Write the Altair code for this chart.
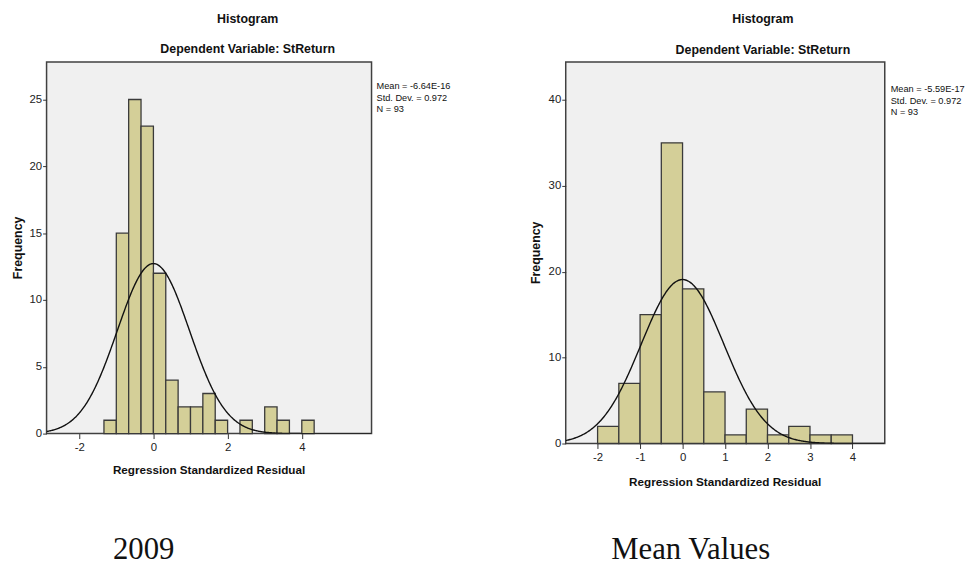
import altair as alt
import pandas as pd

# ---------------- data ----------------
left_bin_starts = [-1.333, -1.0, -0.667, -0.333, 0.0, 0.333, 0.667, 1.0, 1.333, 1.667, 2.333, 3.0, 3.333, 4.0]
left_counts = [1, 15, 25, 23, 12, 4, 2, 2, 3, 1, 1, 2, 1, 1]
left_bin_width = 0.3333

right_bin_starts = [-2.0, -1.5, -1.0, -0.5, 0.0, 0.5, 1.0, 1.5, 2.0, 2.5, 3.0, 3.5]
right_counts = [2, 7, 15, 35, 18, 6, 1, 4, 1, 2, 1, 1]
right_bin_width = 0.5

left_mean, left_sd, left_n = -6.64e-16, 0.972, 93
right_mean, right_sd, right_n = -5.59e-17, 0.972, 93

left_stats = ["Mean = -6.64E-16", "Std. Dev. = 0.972", "N = 93"]
right_stats = ["Mean = -5.59E-17", "Std. Dev. = 0.972", "N = 93"]

left_x_ticks = [-2, 0, 2, 4]
left_y_ticks = [0, 5, 10, 15, 20, 25]
right_x_ticks = [-2, -1, 0, 1, 2, 3, 4]
right_y_ticks = [0, 10, 20, 30, 40]

chart_titles = ["Histogram", "Dependent Variable: StReturn"]
x_title = "Regression Standardized Residual"
y_title = "Frequency"
captions = ["2009", "Mean Values"]

# ---------------- styling ----------------
SANS = "Liberation Sans, Arial, sans-serif"
NARROW = "Liberation Sans Narrow, Arial Narrow, Liberation Sans, sans-serif"
SERIF = "Liberation Serif, Times New Roman, serif"
BAR_FILL = "#D4CF98"
BAR_STROKE = "#3A3A3A"


def text_layer(txt, x, y, size, font, weight="normal", align="center",
               baseline="middle", angle=None, line_height=None):
    kw = dict(font=font, fontSize=size, fontWeight=weight, align=align,
              baseline=baseline, color="#111111")
    if angle is not None:
        kw["angle"] = angle
    if line_height is not None:
        kw["lineBreak"] = "\n"
        kw["lineHeight"] = line_height
    return alt.Chart(pd.DataFrame({"t": [txt]})).mark_text(**kw).encode(
        x=alt.value(x), y=alt.value(y), text="t:N"
    )


def panel(starts, counts, bw, mean, sd, n, xdom, ydom, xticks, yticks, W, H,
          stats, stats_xy, title_x, title_ys, xtitle_xy, ytitle_x,
          caption, caption_xy, caption_align, anchor=False):
    df = pd.DataFrame({"start": starts, "count": counts})
    df["end"] = df["start"] + bw

    xscale = alt.Scale(domain=xdom, nice=False, zero=False)
    yscale = alt.Scale(domain=ydom, nice=False, zero=True)

    xaxis = alt.Axis(values=xticks, title=None, grid=False, domain=False,
                     tickSize=5, tickColor="#333333", tickWidth=1,
                     labelPadding=3, labelFont=NARROW, labelFontSize=11.5,
                     labelColor="#222222", labelFlush=False,
                     labelExpr="'' + datum.value")
    yaxis = alt.Axis(values=yticks, title=None, grid=False, domain=False,
                     tickSize=4, tickColor="#333333", tickWidth=1,
                     labelPadding=1, labelFont=NARROW, labelFontSize=11.5,
                     labelColor="#222222", labelExpr="'' + datum.value")

    bars = alt.Chart(df).mark_rect(
        fill=BAR_FILL, stroke=BAR_STROKE, strokeWidth=1.3
    ).encode(
        x=alt.X("start:Q", scale=xscale, axis=xaxis),
        x2="end:Q",
        y=alt.Y("count:Q", scale=yscale, axis=yaxis),
        y2=alt.datum(0),
    )

    expr = (f"{n}*{bw}/({sd}*sqrt(2*PI))*"
            f"exp(-0.5*pow((datum.x-({mean}))/{sd},2))")
    curve = alt.Chart(alt.sequence(xdom[0], xdom[1] + 0.01, 0.02, as_="x")).transform_calculate(
        y=expr
    ).mark_line(color="#111111", strokeWidth=1.4, clip=True).encode(
        x=alt.X("x:Q", scale=xscale),
        y=alt.Y("y:Q", scale=yscale),
    )

    layers = [bars, curve,
              text_layer(chart_titles[0], title_x, title_ys[0], 12.5, SANS, "bold"),
              text_layer(chart_titles[1], title_x, title_ys[1], 12.5, SANS, "bold"),
              text_layer(x_title, xtitle_xy[0], xtitle_xy[1], 11.8, SANS, "bold"),
              text_layer(y_title, ytitle_x, H / 2, 12.5, SANS, "bold", angle=270),
              text_layer("\n".join(stats), stats_xy[0], stats_xy[1], 9.3, NARROW,
                         align="left", baseline="top", line_height=11.7),
              text_layer(caption, caption_xy[0], caption_xy[1], 31, SERIF,
                         align=caption_align, baseline="alphabetic")]
    if anchor:
        layers.append(
            alt.Chart(pd.DataFrame({"a": [0]})).mark_point(
                opacity=0, size=1, filled=True
            ).encode(x=alt.value(-45), y=alt.value(-58))
        )
    return alt.layer(*layers).properties(width=W, height=H)


left = panel(left_bin_starts, left_counts, left_bin_width, left_mean, left_sd, left_n,
             [-2.88, 5.88], [0, 27.8], left_x_ticks, left_y_ticks, 328, 375,
             left_stats, (333, 20.5), 203, (-43, -13), (164, 412), -29,
             captions[0], (98, 502), "center", anchor=True)

right = panel(right_bin_starts, right_counts, right_bin_width, right_mean, right_sd, right_n,
              [-2.75, 4.76], [0, 44.4], right_x_ticks, right_y_ticks, 322, 385,
              right_stats, (328, 23.5), 199, (-43, -12), (161, 424), -30,
              captions[1], (46, 502), "left")

chart = alt.hconcat(left, right, spacing=196, bounds="flush").properties(
    padding=0, background="white"
).configure_view(
    fill="#F0F0F0", stroke="#404040", strokeWidth=1.5
)

chart.save("out.html", embed_options={"renderer": "svg", "actions": False})
